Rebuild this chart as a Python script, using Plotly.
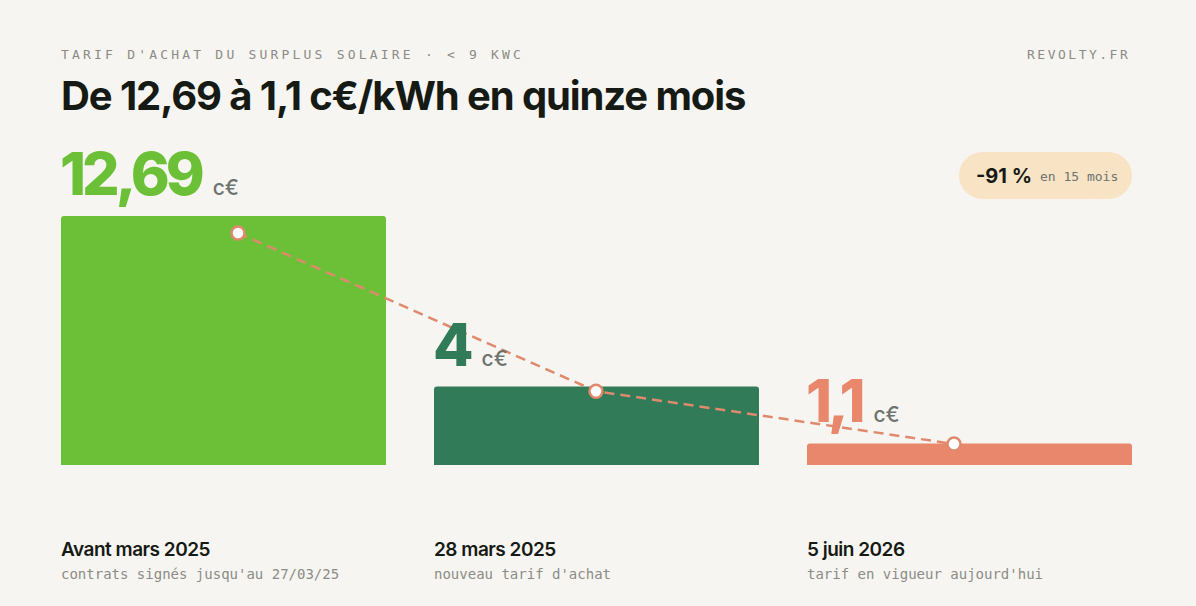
import plotly.graph_objects as go

# données
periodes = ["Avant mars 2025", "28 mars 2025", "5 juin 2026"]
details = ["contrats signés jusqu'au 27/03/25", "nouveau tarif d'achat", "tarif en vigueur aujourd'hui"]
tarifs = [12.69, 4, 1.1]
tarifs_txt = ["12,69", "4", "1,1"]
couleurs = ["#6cc037", "#317b58", "#e8876b"]
baisse_txt = "-91 %"
baisse_detail = "en 15 mois"

BG = "#f7f5f1"
INK = "#161a14"
GREY = "#8b8c86"
UNIT = "#6d746f"
LINE = "#df8a6c"
SANS = "Inter"
MONO = "DejaVu Sans Mono"

pos = list(range(len(tarifs)))
bar_w = 0.8713

fig = go.Figure()

fig.add_trace(go.Bar(
    x=pos, y=tarifs, width=bar_w,
    marker=dict(color=couleurs, line_width=0),
    hoverinfo="skip", showlegend=False,
))

# ligne pointillée de tendance
fig.add_trace(go.Scatter(
    x=pos, y=tarifs, xaxis="x2", yaxis="y2",
    mode="lines+markers",
    line=dict(color=LINE, width=2.5, dash="10px,6px"),
    marker=dict(size=13, color="white", line=dict(color=LINE, width=2.5)),
    hoverinfo="skip", showlegend=False,
))

annotations = []

# valeurs au-dessus des barres
for i, (v, t, c) in enumerate(zip(tarifs, tarifs_txt, couleurs)):
    annotations.append(dict(
        x=i - bar_w / 2, y=v, xref="x", yref="y",
        xanchor="left", yanchor="bottom", yshift=5, xshift=-3, showarrow=False,
        text=(f"<span style='font-size:59px;font-weight:800;letter-spacing:-4px;color:{c}'>{t}</span>"
              f"<span style='letter-spacing:6px'> </span>"
              f"<span style='font-weight:500;color:{UNIT}'>c€</span>"),
        font=dict(family=SANS, size=21),
    ))

# libellés sous les barres
for i, (p, d) in enumerate(zip(periodes, details)):
    annotations.append(dict(
        x=i - bar_w / 2, y=0, xref="x", yref="paper",
        xanchor="left", yanchor="middle", yshift=-84, xshift=-2, showarrow=False,
        text=f"<span style='letter-spacing:-0.5px'>{p}</span>",
        font=dict(family=SANS, size=19, color=INK, weight=600),
    ))
    annotations.append(dict(
        x=i - bar_w / 2, y=0, xref="x", yref="paper",
        xanchor="left", yanchor="middle", yshift=-109, xshift=-2, showarrow=False,
        text=d, font=dict(family=MONO, size=14, color=GREY),
    ))

# en-tête
annotations += [
    dict(x=0, y=1, xref="paper", yref="paper", xanchor="left", yanchor="middle",
         yshift=136, xshift=-2, showarrow=False,
         text="<span style='letter-spacing:3.2px'>TARIF D'ACHAT DU SURPLUS SOLAIRE · < 9 KWC</span>",
         font=dict(family=MONO, size=13, color=GREY)),
    dict(x=1, y=1, xref="paper", yref="paper", xanchor="right", yanchor="middle",
         yshift=136, showarrow=False,
         text="<span style='letter-spacing:2.5px'>REVOLTY.FR</span>",
         font=dict(family=MONO, size=13, color=GREY)),
    dict(x=0, y=1, xref="paper", yref="paper", xanchor="left", yanchor="middle",
         yshift=95, xshift=-2, showarrow=False,
         text="<span style='letter-spacing:-1.1px'>De 12,69 à 1,1 c€/kWh en quinze mois</span>",
         font=dict(family=SANS, size=40, color=INK, weight=700)),
    dict(x=1, y=1, xref="paper", yref="paper", xanchor="left", yanchor="middle",
         xshift=-158, yshift=14, showarrow=False,
         text=baisse_txt, font=dict(family=SANS, size=20, color=INK, weight=700)),
    dict(x=1, y=1, xref="paper", yref="paper", xanchor="left", yanchor="middle",
         xshift=-94, yshift=14, showarrow=False,
         text=baisse_detail, font=dict(family=MONO, size=13, color=UNIT)),
]

# pastille "-91 %"
PILL = "#f8e3c5"
pill = dict(xref="paper", yref="paper", xanchor=1, yanchor=1,
            xsizemode="pixel", ysizemode="pixel", fillcolor=PILL,
            line_width=0, layer="below")
shapes = [
    dict(type="rect", x0=-150, x1=-23, y0=-9, y1=38, **pill),
    dict(type="circle", x0=-173, x1=-126, y0=-9, y1=38, **pill),
    dict(type="circle", x0=-47, x1=0, y0=-9, y1=38, **pill),
]

hidden = dict(visible=False, showgrid=False, zeroline=False, fixedrange=True)

fig.update_layout(
    width=1196, height=606,
    margin=dict(l=61, r=64, t=190, b=141),
    paper_bgcolor=BG, plot_bgcolor=BG,
    barcornerradius=3,
    xaxis=dict(range=[-bar_w / 2, 2 + bar_w / 2], **hidden),
    yaxis=dict(range=[0, 14.02], **hidden),
    xaxis2=dict(range=[-0.4944, 2.4972], overlaying="x", **hidden),
    yaxis2=dict(range=[-0.055, 15.05], overlaying="y", **hidden),
    annotations=annotations,
    shapes=shapes,
    showlegend=False,
)

fig.write_html("out.html", config={"displayModeBar": False},
               post_script="document.body.style.margin='0';")
